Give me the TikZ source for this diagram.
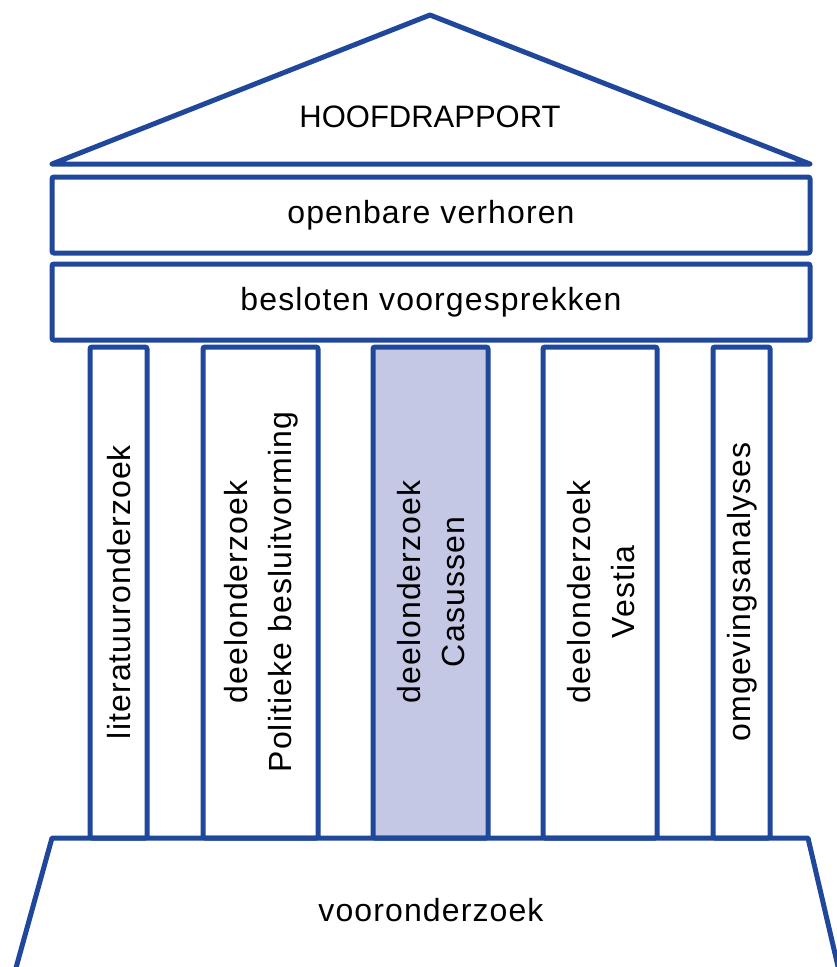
\documentclass[tikz,border=0pt]{standalone}
\usepackage{fontspec}
\setmainfont{Liberation Sans}
\newfontfamily\lowfont[LetterSpace=3.5]{Liberation Sans}
\definecolor{tblue}{RGB}{31,71,155}
\definecolor{tfill}{RGB}{197,200,228}
\begin{document}
\begin{tikzpicture}[x=1pt,y=-1pt,
  part/.style={draw=tblue,line width=5pt,rounded corners=2pt},
  capslbl/.style={font=\fontsize{31}{44}\selectfont,align=center,text=black},
  lbl/.style={font=\lowfont\fontsize{32}{44}\selectfont,align=center,text=black},
  vlbl/.style={lbl,rotate=90}]
\useasboundingbox (0,0) rectangle (837,967);
\clip (0,0) rectangle (837,967);
% roof
\draw[tblue,line width=5pt,line join=round] (52,164) -- (430,15) -- (810,164) -- cycle;
\node[capslbl] (roof) at (430,117) {HOOFDRAPPORT};
% beams
\draw[part] (52,177) rectangle (810,253);
\node[lbl] (b1) at (431,215) {openbare verhoren};
\draw[part] (52,264) rectangle (810,340);
\node[lbl] (b2) at (431,302) {besloten voorgesprekken};
% columns
\draw[part] (90,347) rectangle (147,838);
\draw[part] (203,347) rectangle (318,838);
\draw[part,fill=tfill] (373,347) rectangle (488,838);
\draw[part] (543,347) rectangle (657,838);
\draw[part] (713,347) rectangle (770,838);
\node[vlbl] (c1) at (119,592) {literatuuronderzoek};
\node[vlbl] (c2) at (261,592) {deelonderzoek\\Politieke besluitvorming};
\node[vlbl] (c3) at (431,592) {deelonderzoek\\Casussen};
\node[vlbl] (c4) at (601,592) {deelonderzoek\\Vestia};
\node[vlbl] (c5) at (742,592) {omgevingsanalyses};
% base
\draw[tblue,line width=5pt,line join=round] (14,975) -- (52,838) -- (808,838) -- (840,975);
\node[lbl] (base) at (431,910) {vooronderzoek};
\end{tikzpicture}
\end{document}
